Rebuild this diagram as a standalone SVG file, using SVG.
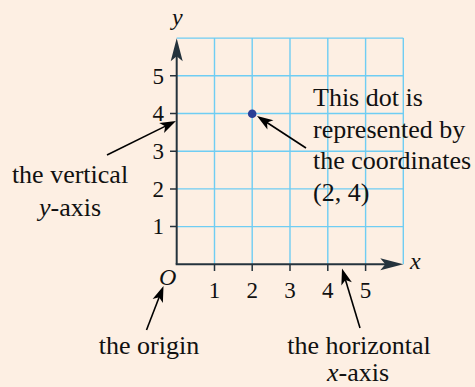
<svg xmlns="http://www.w3.org/2000/svg" width="475" height="387" viewBox="0 0 475 387">
<style>
.grid{stroke:#6fcdf3;stroke-width:1.4;fill:none}
.axis{stroke:#24333d;stroke-width:2;fill:none}
.tick{stroke:#24333d;stroke-width:1.5}
.ann{stroke:#000;stroke-width:1.6;fill:none}
.num{font-family:"Liberation Serif","Times New Roman",serif;font-size:23px;fill:#111}
.var{font-family:"Liberation Serif","Times New Roman",serif;font-size:24px;font-style:italic;fill:#111}
.lbl{font-family:"Liberation Serif","Times New Roman",serif;font-size:26px;fill:#111}
</style>
<defs>
<marker id="axhead" markerUnits="userSpaceOnUse" markerWidth="40" markerHeight="40" refX="0" refY="0" orient="auto" overflow="visible" viewBox="-20 -20 40 40">
<path d="M12,0 L-11,-6 L-6,0 L-11,6 z" fill="#24333d"/>
</marker>
<marker id="head" markerUnits="userSpaceOnUse" markerWidth="40" markerHeight="40" refX="0" refY="0" orient="auto" overflow="visible" viewBox="-20 -20 40 40">
<path d="M10,0 L-6,-5.5 L-2,0 L-6,5.5 z" fill="#000"/>
</marker>
</defs>
<rect width="475" height="387" fill="#fdefe3"/>
<g id="grid">
<path class="grid" d="M214.5,38.1V264.3M252.2,38.1V264.3M290,38.1V264.3M327.8,38.1V264.3M365.6,38.1V264.3M403.3,38.1V264.3M176.7,38.1H403.3M176.7,75.8H403.3M176.7,113.5H403.3M176.7,151.2H403.3M176.7,188.9H403.3M176.7,226.6H403.3"/>
</g>
<g id="axes">
<path class="tick" d="M170,75.8H176.7M170,113.5H176.7M170,151.2H176.7M170,188.9H176.7M170,226.6H176.7M214.5,264.3V271M252.2,264.3V271M290,264.3V271M327.8,264.3V271M365.6,264.3V271"/>
<line class="axis" x1="176.7" y1="264.3" x2="176.7" y2="50.3" marker-end="url(#axhead)"/>
<line class="axis" x1="175.7" y1="264.3" x2="391.3" y2="264.3" marker-end="url(#axhead)"/>
<text class="var" x="172" y="25">y</text>
<text class="var" x="410" y="269">x</text>
<text class="var" x="159" y="284.5">O</text>
<g class="num" text-anchor="end">
<text x="164" y="83.5">5</text>
<text x="164" y="121.2">4</text>
<text x="164" y="158.9">3</text>
<text x="164" y="196.6">2</text>
<text x="164" y="234.3">1</text>
</g>
<g class="num" text-anchor="middle">
<text x="214.5" y="297.5">1</text>
<text x="252.2" y="297.5">2</text>
<text x="290" y="297.5">3</text>
<text x="327.8" y="297.5">4</text>
<text x="365.6" y="297.5">5</text>
</g>
</g>
<g id="dot">
<circle cx="252.2" cy="113.7" r="4.3" fill="#2a3d96"/>
</g>
<g id="dot-label" class="lbl">
<text x="313" y="106">This dot is</text>
<text x="313" y="137.5">represented by</text>
<text x="313" y="169">the coordinates</text>
<text x="313" y="200.5">(2, 4)</text>
</g>
<g id="vertical-label" class="lbl" text-anchor="middle">
<text x="70" y="183">the vertical</text>
<text x="70" y="216"><tspan font-style="italic">y</tspan>-axis</text>
</g>
<g id="origin-label" class="lbl" text-anchor="middle">
<text x="149" y="353.5">the origin</text>
</g>
<g id="horizontal-label" class="lbl" text-anchor="middle">
<text x="359" y="353.5">the horizontal</text>
<text x="358" y="381"><tspan font-style="italic">x</tspan>-axis</text>
</g>
<g id="connectors">
<line class="ann" x1="107" y1="155" x2="167" y2="125.4" marker-end="url(#head)"/>
<line class="ann" x1="306" y1="148" x2="265.4" y2="121.5" marker-end="url(#head)"/>
<line class="ann" x1="146.5" y1="330" x2="159.9" y2="295.3" marker-end="url(#head)"/>
<line class="ann" x1="360" y1="328" x2="344.9" y2="278.1" marker-end="url(#head)"/>
</g>
</svg>
